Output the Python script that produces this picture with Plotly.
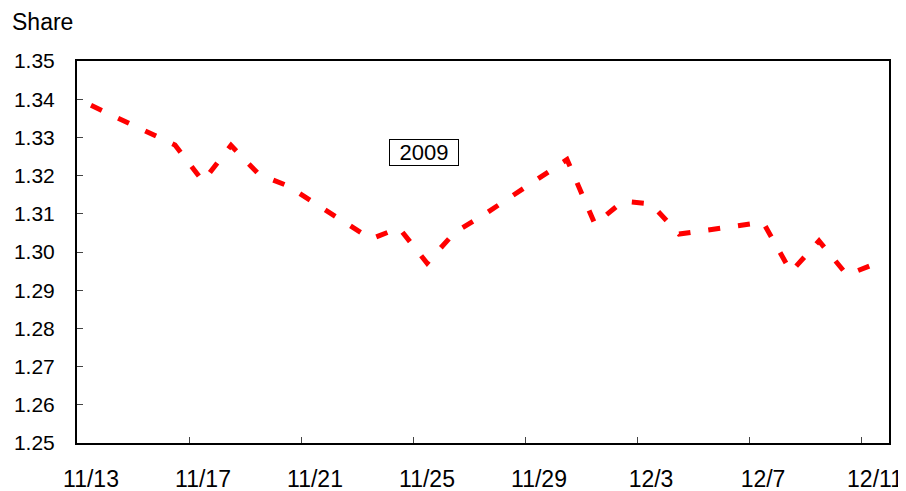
import plotly.graph_objects as go

# Data (day offsets from 11/13/2009, trading days only)
dates = ["11/13", "11/16", "11/17", "11/18", "11/19", "11/20", "11/23", "11/24",
         "11/25", "11/26", "11/27", "11/30", "12/1", "12/2", "12/3", "12/4",
         "12/7", "12/8", "12/9", "12/10", "12/11"]
day_index = [0, 3, 4, 5, 6, 7, 10, 11, 12, 13, 14, 17, 18, 19, 20, 21, 24, 25, 26, 27, 28]
values = [1.3384, 1.3280, 1.3185, 1.3279, 1.3203, 1.3174, 1.3034, 1.3063,
          1.2971, 1.3052, 1.3096, 1.3242, 1.3073, 1.3133, 1.3126, 1.3047,
          1.3078, 1.2948, 1.3029, 1.2940, 1.2969]

x_tick_days = [0, 4, 8, 12, 16, 20, 24, 28]
x_tick_labels = ["11/13", "11/17", "11/21", "11/25", "11/29", "12/3", "12/7", "12/11"]
y_ticks = [1.25, 1.26, 1.27, 1.28, 1.29, 1.30, 1.31, 1.32, 1.33, 1.34, 1.35]

FONT = "Arial, Liberation Sans, sans-serif"

# each day occupies one cell; points and labels sit at the cell centre
x_pts = [d + 0.5 for d in day_index]

fig = go.Figure()
fig.add_trace(go.Scatter(
    x=x_pts, y=values, mode="lines",
    line=dict(color="#FF0000", width=5, dash="12px,18px"),
    hoverinfo="skip", showlegend=False,
))

# page body has an 8px margin, so the figure is 8px smaller and shifted
fig.update_layout(
    width=898, height=483,
    margin=dict(l=69, r=17, t=53, b=48, autoexpand=False),
    paper_bgcolor="white", plot_bgcolor="white",
    font=dict(family=FONT, color="black"),
    xaxis=dict(
        range=[0, 29], automargin=False,
        tickmode="array",
        tickvals=[d + 0.5 for d in x_tick_days],
        ticktext=x_tick_labels,
        ticks="",
        tickfont=dict(size=23, family=FONT, color="black"),
        showgrid=False, zeroline=False,
        showline=True, linecolor="black", linewidth=2, mirror=True,
        ticklabelstandoff=14,
        minor=dict(tickmode="array", tickvals=x_tick_days[1:], ticks="inside",
                   ticklen=6, tickwidth=1, tickcolor="#444", showgrid=False),
    ),
    yaxis=dict(
        range=[1.25, 1.35], automargin=False,
        tickmode="array",
        tickvals=y_ticks,
        ticktext=[f"{v:.2f}" for v in y_ticks],
        ticks="inside", ticklen=6, tickwidth=1, tickcolor="#444",
        tickfont=dict(size=21, family=FONT, color="black"),
        showgrid=False, zeroline=False,
        showline=True, linecolor="black", linewidth=2, mirror=True,
        ticklabelstandoff=16,
    ),
    annotations=[
        dict(text="Share", xref="paper", yref="paper",
             x=-67 / 812, y=(443 - 22) / 382,
             xanchor="left", yanchor="middle", showarrow=False,
             font=dict(size=23, family=FONT, color="black")),
        dict(text="2009", xref="paper", yref="paper",
             x=(424 - 77) / 812, y=(443 - 152.5) / 382,
             xanchor="center", yanchor="middle", showarrow=False,
             width=68, height=25, borderpad=0,
             bordercolor="black", borderwidth=1, bgcolor="white",
             font=dict(size=22, family=FONT, color="black")),
    ],
)

fig.write_html("out.html")
